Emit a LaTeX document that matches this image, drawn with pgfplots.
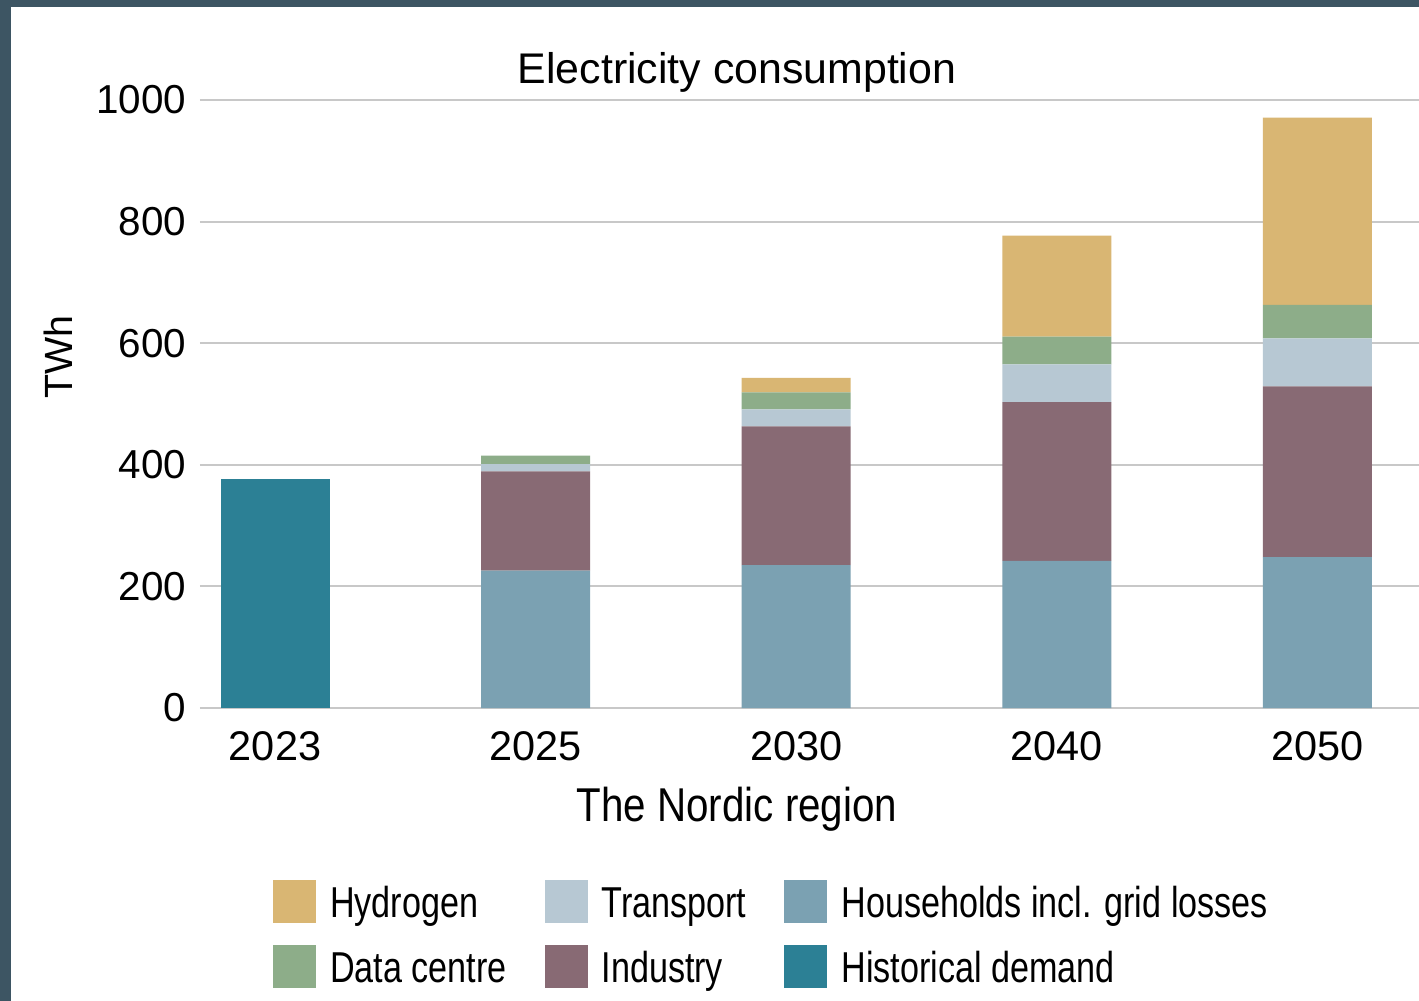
\documentclass[border=0pt]{standalone}
\usepackage{pgfplots}
\pgfplotsset{compat=1.18}
\usepackage{fontspec}
\setmainfont{Liberation Sans}
\newfontfamily\condfont{Liberation Sans}[FakeStretch=0.79]
\newfontfamily\xlabfont{Liberation Sans}[FakeStretch=0.85]
\definecolor{bordercol}{HTML}{3D5563}
\definecolor{hydc}{HTML}{D9B673}
\definecolor{datc}{HTML}{8DAD89}
\definecolor{trac}{HTML}{B7C8D3}
\definecolor{indc}{HTML}{886A74}
\definecolor{houc}{HTML}{7BA1B2}
\definecolor{hisc}{HTML}{2C8095}
\definecolor{gridgray}{RGB}{200,200,200}
\pgfplotsset{sw/.style={legend image code/.code={\fill[##1] (0cm,-0.215cm) rectangle (0.43cm,0.215cm);}}}
\begin{document}
\begin{tikzpicture}
\useasboundingbox (0,0) rectangle (14.19,10.01);
\fill[bordercol] (0,0) rectangle (14.19,10.01);
\fill[white] (0.11,0) rectangle (14.19,9.94);
\node[anchor=base, font=\fontsize{12.2}{14}\selectfont] at (7.37,9.17) {Electricity consumption};
\node[anchor=base, font=\xlabfont\fontsize{13.5}{15}\selectfont] at (7.37,1.79) {The Nordic region};
\node[anchor=base, rotate=90, font=\fontsize{11.2}{13}\selectfont] at (0.73,6.44) {TWh};
\begin{axis}[
  at={(2.00cm,2.93cm)}, anchor=south west,
  scale only axis, width=12.19cm, height=6.08cm,
  xmin=-0.288, xmax=4.39, ymin=0, ymax=1000,
  ybar stacked, bar width=1.09cm,
  axis line style={draw=none}, major tick length=0pt,
  ymajorgrids, xmajorgrids=false,
  grid style={line width=0.6pt, color=gridgray},
  ytick={0,200,400,600,800,1000},
  xtick={0,1,2,3,4}, xticklabels={2023,2025,2030,2040,2050},
  /pgf/number format/assume math mode=true,
  /pgf/number format/1000 sep={},
  yticklabel style={font=\fontsize{11.5}{13}\selectfont, inner sep=0pt, xshift=-0.13cm},
  xticklabel style={font=\fontsize{11.8}{13}\selectfont, inner sep=0pt, yshift=-0.23cm},
  clip=false,
  legend columns=3,
  legend cell align=left,
  legend style={at={(0.0599,-0.2829)}, anchor=north west, draw=none, fill=none,
    inner sep=0pt, outer sep=0pt,
    font=\condfont\fontsize{12.3}{14}\selectfont,
    nodes={inner sep=0pt, text height=0.37cm, text depth=0.06cm},
    row sep=0.22cm,
    /tikz/every odd column/.append style={column sep=0.14cm},
    /tikz/every even column/.append style={column sep=0.38cm}},
]
\addplot[forget plot, fill=hisc, draw=none] coordinates {(0,377) (1,0) (2,0) (3,0) (4,0)};
\addplot[forget plot, fill=houc, draw=none] coordinates {(0,0) (1,226) (2,235) (3,242) (4,248)};
\addplot[forget plot, fill=indc, draw=none] coordinates {(0,0) (1,163) (2,228) (3,261) (4,281)};
\addplot[forget plot, fill=trac, draw=none] coordinates {(0,0) (1,12) (2,28) (3,62) (4,79)};
\addplot[forget plot, fill=datc, draw=none] coordinates {(0,0) (1,14) (2,28) (3,46) (4,55)};
\addplot[forget plot, fill=hydc, draw=none] coordinates {(0,0) (1,0) (2,24) (3,166) (4,308)};
\addlegendimage{sw, fill=hydc, draw=none}
\addlegendentry{Hydrogen}
\addlegendimage{sw, fill=trac, draw=none}
\addlegendentry{Transport}
\addlegendimage{sw, fill=houc, draw=none}
\addlegendentry{Households incl. grid losses}
\addlegendimage{sw, fill=datc, draw=none}
\addlegendentry{Data centre}
\addlegendimage{sw, fill=indc, draw=none}
\addlegendentry{Industry}
\addlegendimage{sw, fill=hisc, draw=none}
\addlegendentry{Historical demand}
\end{axis}
\end{tikzpicture}
\end{document}
